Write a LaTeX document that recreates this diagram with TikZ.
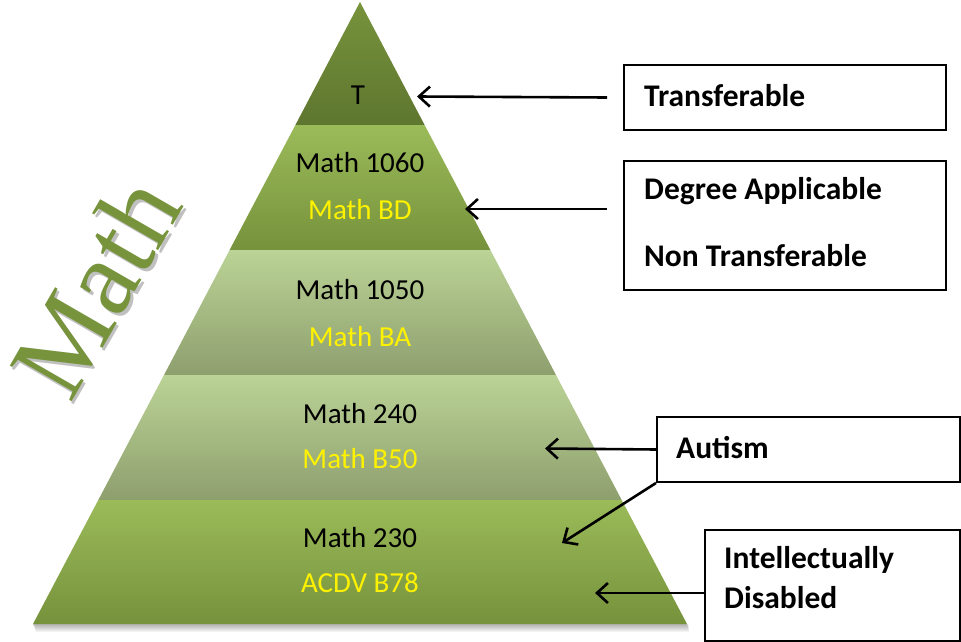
\documentclass[tikz,border=0pt]{standalone}
\usepackage{fontspec}
\newfontfamily\carlito{Carlito}
\newfontfamily\bigserif{Liberation Serif}
\usetikzlibrary{arrows.meta}
\definecolor{gA}{HTML}{9BBB59}
\definecolor{gB}{HTML}{76923C}
\definecolor{tA}{HTML}{77933C}
\definecolor{tB}{HTML}{5E762F}
\definecolor{lA}{HTML}{BBD396}
\definecolor{lB}{HTML}{8E9F6E}
\definecolor{mathgreen}{HTML}{77933C}
\begin{document}
\begin{tikzpicture}[x=1pt,y=-1pt,
  lbl/.style={font=\carlito\fontsize{31.5}{33}\selectfont\bfseries, anchor=west, inner sep=0pt},
  ptxt/.style={font=\carlito\fontsize{29}{31}\selectfont, inner sep=0pt},
  ytxt/.style={ptxt, text=yellow},
  box/.style={draw=black, line width=2pt, fill=white, anchor=north west, inner sep=0pt},
  arr/.style={line width=2.6pt, -{Straight Barb[length=11pt,width=20pt]}},
  bigtxt/.style={font=\bigserif\fontsize{109}{109}\selectfont, rotate=60, anchor=base west, inner sep=0pt}
]
\useasboundingbox (0,0) rectangle (961,642);
% soft shadow under the base
\foreach \i in {1,...,8}
  \fill[black, opacity=0.045] (33,624) -- (687,624) -- (689,624+\i) -- (36,624+\i) -- cycle;
% pyramid layers
\shade[top color=tA, bottom color=tB] (360,2) -- (424.6,125) -- (295.4,125) -- cycle;
\shade[top color=gA, bottom color=gB] (295.4,125) -- (424.6,125) -- (490.4,250) -- (229.6,250) -- cycle;
\shade[top color=lA, bottom color=lB] (229.6,250) -- (490.4,250) -- (556,375) -- (164,375) -- cycle;
\shade[top color=lA, bottom color=lB] (164,375) -- (556,375) -- (621.7,500) -- (98.3,500) -- cycle;
\shade[top color=gA, bottom color=gB] (98.3,500) -- (621.7,500) -- (687,624) -- (33,624) -- cycle;
% big rotated title
\node[bigtxt, text=black!45, opacity=0.55] (mathshadow) at (72.5,407.5) {Math};
\node[bigtxt, text=mathgreen] (math) at (70,405) {Math};
% pyramid texts
\node[ptxt] (t) at (358,95) {T};
\node[ptxt] (m1060) at (360,163) {Math 1060};
\node[ytxt] (mbd) at (360,210) {Math BD};
\node[ptxt] (m1050) at (360,290) {Math 1050};
\node[ytxt] (mba) at (360,337) {Math BA};
\node[ptxt] (m240) at (360,414) {Math 240};
\node[ytxt] (mb50) at (360,459) {Math B50};
\node[ptxt] (m230) at (360,538) {Math 230};
\node[ytxt] (acdv) at (360,583) {ACDV B78};
% boxes
\node[box, minimum width=322pt, minimum height=65pt] (b1) at (623,64) {};
\node[box, minimum width=322pt, minimum height=129pt] (b2) at (623,160) {};
\node[box, minimum width=303pt, minimum height=65pt] (b3) at (656,416) {};
\node[box, minimum width=255pt, minimum height=111pt] (b4) at (704,529) {};
\node[lbl] (l1) at (644,96) {Transferable};
\node[lbl] (l2) at (644,191) {Degree Applicable};
\node[lbl] (l3) at (644,256) {Non Transferable};
\node[lbl] (l4) at (676,448) {Autism};
\node[lbl] (l5) at (724,560) {Intellectually};
\node[lbl] (l6) at (724,598) {Disabled};
% arrow targets
\coordinate (p1) at (417,96.5);
\coordinate (p2) at (465,209);
\coordinate (p3) at (545,448.5);
\coordinate (p4) at (562,543);
\coordinate (p5) at (595,593);
\path (b1.west) ++(-16,0) coordinate (s1);
\path (b2.west |- p2) ++(-16,0) coordinate (s2);
\draw[arr] (s1) -- (p1);
\draw[arr] (s2) -- (p2);
\draw[arr] (b3.west) -- (p3);
\draw[arr] (b3.south west) -- (p4);
\draw[arr] (b4.west |- p5) -- (p5);
\end{tikzpicture}
\end{document}
